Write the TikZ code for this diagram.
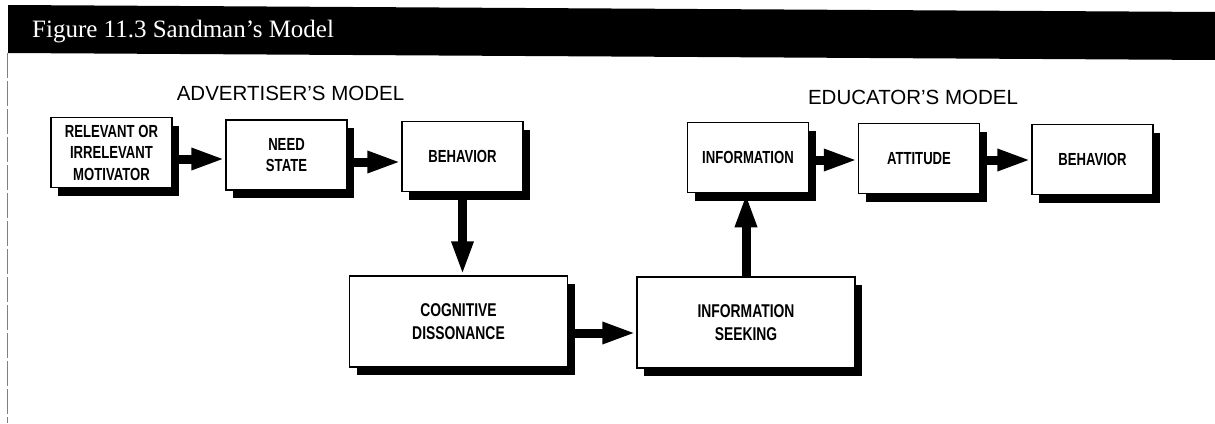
\documentclass[tikz,border=0pt]{standalone}
\usepackage{fontspec}
\setmainfont{Liberation Serif}
\newfontfamily\boxfont[FakeStretch=0.75]{Liberation Sans}
\newfontfamily\titlefont{Liberation Sans}
\usetikzlibrary{arrows.meta,shadows,calc}
\tikzset{
  box/.style={draw=black, line width=1.5pt, fill=white,
    minimum width=121pt, minimum height=70pt, inner sep=0pt, align=center,
    font=\boxfont\bfseries\fontsize{17.5}{21.5}\selectfont,
    drop shadow={shadow xshift=7pt, shadow yshift=-8pt, opacity=1, fill=black}},
  widebox/.style={box, minimum width=218pt, minimum height=91pt,
    font=\boxfont\bfseries\fontsize{18.5}{23}\selectfont},
  flow/.style={line width=9pt, -{Triangle[length=34pt,width=20pt]}},
  modeltitle/.style={anchor=base, inner sep=0pt, font=\titlefont\fontsize{20.5}{24}\selectfont},
}
\begin{document}
\begin{tikzpicture}[x=1pt,y=-1pt]
\useasboundingbox (0,0) rectangle (1215,423);
\fill[white] (0,0) rectangle (1215,423);
% header bar
\fill[black] (8,5) -- (1215,12) -- (1215,60) -- (8,53) -- cycle;
\node[anchor=base west, text=white, inner sep=0pt, font=\fontsize{25}{30}\selectfont] (hdr) at (32,37) {Figure 11.3 Sandman’s Model};
% left border
\draw[gray, line width=0.8pt, dash pattern=on 25pt off 3pt] (7.5,53) -- (7.5,423);
% titles
\node[modeltitle] (adv) at (290.5,100) {ADVERTISER’S MODEL};
\node[modeltitle] (edu) at (913,104) {EDUCATOR’S MODEL};
% boxes
\node[box] (mot) at (111.5,152.5) {RELEVANT OR\\IRRELEVANT\\MOTIVATOR};
\node[box] (need) at (286.5,155) {NEED\\STATE};
\node[box] (beh1) at (462.5,156.5) {BEHAVIOR};
\node[widebox] (cog) at (458.5,321.5) {COGNITIVE\\DISSONANCE};
\node[widebox] (seek) at (746,322.5) {INFORMATION\\SEEKING};
\node[box] (info) at (748,157.5) {INFORMATION};
\node[box] (att) at (919,158.5) {ATTITUDE};
\node[box] (beh2) at (1092.5,159.5) {BEHAVIOR};
% arrows
\coordinate (a1) at ([yshift=-6.5pt]mot.east);
\coordinate (a2) at ([yshift=-7pt]need.east);
\coordinate (a4) at ([yshift=-11.5pt]cog.east);
\coordinate (a6) at ([yshift=-2.5pt]info.east);
\coordinate (a7) at ([yshift=-1.5pt]att.east);
\draw[flow] (a1) -- (a1 -| need.west);
\draw[flow] (a2) -- (a2 -| beh1.west);
\draw[flow] (beh1.south) -- (beh1.south |- cog.north);
\draw[flow] (a4) -- (a4 -| seek.west);
\draw[flow] (seek.north) -- (seek.north |- info.south);
\draw[flow] (a6) -- (a6 -| att.west);
\draw[flow] (a7) -- (a7 -| beh2.west);
\end{tikzpicture}
\end{document}
